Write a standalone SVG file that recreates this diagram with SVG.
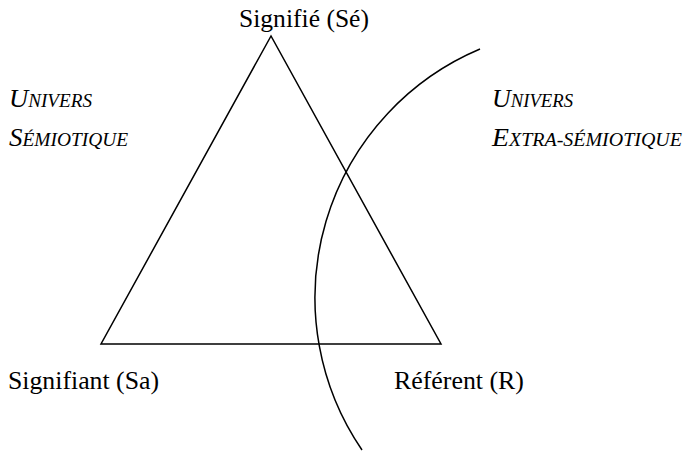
<svg xmlns="http://www.w3.org/2000/svg" width="686" height="457" viewBox="0 0 686 457" font-family="Liberation Serif, DejaVu Serif, serif">
<style>
.lbl{font-family:"Liberation Serif","Times New Roman",serif;font-size:26px;fill:#000}
.sc{font-family:"Liberation Serif","Times New Roman",serif;font-style:italic;font-size:25px;fill:#000}
.sm{font-size:18px}
.ln{fill:none;stroke:#000;stroke-width:1.5}
</style>
<rect width="686" height="457" fill="#fff"/>
<g id="connectors">
<path id="triangle" class="ln" d="M271,36 L101,344 L441,344 Z"/>
<path id="boundary" class="ln" d="M480,49 A270,270 0 0,0 362,450"/>
</g>
<g id="signifie"><text class="lbl" x="239" y="27" textLength="130" lengthAdjust="spacingAndGlyphs">Signifié (Sé)</text></g>
<g id="signifiant"><text class="lbl" x="8" y="389" textLength="151" lengthAdjust="spacingAndGlyphs">Signifiant (Sa)</text></g>
<g id="referent"><text class="lbl" x="394" y="389" textLength="130" lengthAdjust="spacingAndGlyphs">Référent (R)</text></g>
<g id="univers-semiotique">
<text class="sc" x="9" y="107" textLength="83" lengthAdjust="spacingAndGlyphs">U<tspan class="sm">NIVERS</tspan></text>
<text class="sc" x="9" y="146" textLength="119" lengthAdjust="spacingAndGlyphs">S<tspan class="sm">ÉMIOTIQUE</tspan></text>
</g>
<g id="univers-extra">
<text class="sc" x="492" y="107" textLength="81" lengthAdjust="spacingAndGlyphs">U<tspan class="sm">NIVERS</tspan></text>
<text class="sc" x="492" y="146" textLength="190" lengthAdjust="spacingAndGlyphs">E<tspan class="sm">XTRA-SÉMIOTIQUE</tspan></text>
</g>
</svg>
